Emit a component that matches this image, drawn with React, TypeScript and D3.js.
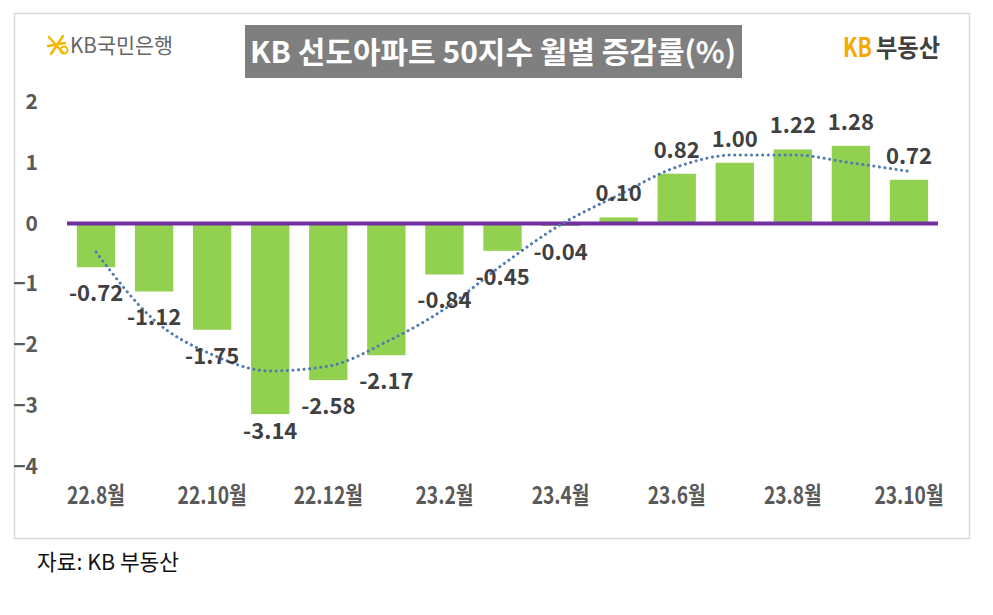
import React, { useRef, useEffect } from 'react';
import * as d3 from 'd3';

// months shown on the category axis
const months = [
  '22.8월', '22.9월', '22.10월', '22.11월', '22.12월', '23.1월', '23.2월', '23.3월',
  '23.4월', '23.5월', '23.6월', '23.7월', '23.8월', '23.9월', '23.10월',
];
// monthly change (%) of the KB 50 leading apartments index
const changes = [-0.72, -1.12, -1.75, -3.14, -2.58, -2.17, -0.84, -0.45, -0.04, 0.10, 0.82, 1.00, 1.22, 1.28, 0.72];
// dotted trend line
const trend = [-0.47, -1.59, -2.16, -2.43, -2.35, -1.95, -1.41, -0.68, -0.02, 0.47, 0.93, 1.13, 1.13, 1.0, 0.86];
const tickMonths = ['22.8월', '22.10월', '22.12월', '23.2월', '23.4월', '23.6월', '23.8월', '23.10월'];
const yTicks = [2, 1, 0, -1, -2, -3, -4];

const title = 'KB 선도아파트 50지수 월별 증감률(%)';
const source = '자료: KB 부동산';

const KFONT = "'Noto Sans CJK KR', 'Noto Sans', sans-serif";

const App = () => {
  const svgRef = useRef<SVGSVGElement | null>(null);

  useEffect(() => {
    const svg = d3.select(svgRef.current);
    svg.selectAll('*').remove();

    // outer frame
    svg.append('rect')
      .attr('x', 14.5).attr('y', 13.5)
      .attr('width', 955).attr('height', 525)
      .attr('fill', '#fff')
      .attr('stroke', '#d9d9d9')
      .attr('stroke-width', 1.5);

    // title box
    svg.append('rect')
      .attr('x', 245).attr('y', 25)
      .attr('width', 497).attr('height', 53)
      .attr('fill', '#7f7f7f');
    svg.append('text')
      .attr('x', 250).attr('y', 63)
      .attr('textLength', 486)
      .attr('lengthAdjust', 'spacingAndGlyphs')
      .attr('font-family', KFONT)
      .attr('font-weight', 700)
      .attr('font-size', 30)
      .attr('fill', '#fff')
      .text(title);

    // KB국민은행 logo (rough)
    const logo = svg.append('g').attr('transform', 'translate(57,45)');
    logo.append('path')
      .attr('d', 'M-8,-8 L6,8 M6,-9 L-6,9 M-9,1 L8,-2')
      .attr('stroke', '#f5b800').attr('stroke-width', 2.4)
      .attr('stroke-linecap', 'round').attr('fill', 'none');
    logo.append('circle')
      .attr('cx', 7).attr('cy', 5).attr('r', 3.5)
      .attr('stroke', '#f5b800').attr('stroke-width', 2).attr('fill', 'none');
    svg.append('text')
      .attr('x', 70).attr('y', 53)
      .attr('textLength', 103)
      .attr('lengthAdjust', 'spacingAndGlyphs')
      .attr('font-family', KFONT)
      .attr('font-size', 21)
      .attr('fill', '#666')
      .text('KB국민은행');

    // KB부동산 logo
    svg.append('text')
      .attr('x', 843).attr('y', 57)
      .attr('textLength', 29)
      .attr('lengthAdjust', 'spacingAndGlyphs')
      .attr('font-family', KFONT)
      .attr('font-weight', 700)
      .attr('font-size', 27)
      .attr('fill', '#f5a800')
      .text('KB');
    svg.append('text')
      .attr('x', 876).attr('y', 57)
      .attr('textLength', 64)
      .attr('lengthAdjust', 'spacingAndGlyphs')
      .attr('font-family', KFONT)
      .attr('font-weight', 700)
      .attr('font-size', 25)
      .attr('fill', '#404040')
      .text('부동산');

    // scales
    const x = d3.scaleBand<string>()
      .domain(months)
      .range([67, 938])
      .paddingInner(0.34)
      .paddingOuter(0.17);

    const y = d3.scaleLinear()
      .domain([-4, 2])
      .range([466.3, 102.1]);

    // y axis labels
    const yAxis = svg.append('g')
      .attr('transform', 'translate(38,0)')
      .call(d3.axisLeft(y).tickValues(yTicks).tickSize(0).tickPadding(0).tickFormat(d3.format('d')));
    yAxis.select('.domain').remove();
    yAxis.selectAll('text')
      .attr('font-family', KFONT)
      .attr('font-weight', 700)
      .attr('font-size', 21)
      .attr('fill', '#595959');

    // x axis labels, squeezed horizontally like the original condensed font
    const xAxis = svg.append('g')
      .attr('transform', 'translate(0,486)')
      .call(d3.axisBottom(x).tickValues(tickMonths).tickSize(0).tickPadding(0));
    xAxis.select('.domain').remove();
    xAxis.selectAll('text')
      .attr('font-family', KFONT)
      .attr('font-weight', 700)
      .attr('font-size', 24)
      .attr('fill', '#595959')
      .attr('dy', '0.75em')
      .attr('transform', 'scale(0.8,1)');

    // bars
    svg.append('g')
      .selectAll('rect')
      .data(changes)
      .join('rect')
      .attr('x', (d, i) => x(months[i])!)
      .attr('width', x.bandwidth())
      .attr('y', d => y(Math.max(0, d)))
      .attr('height', d => Math.abs(y(d) - y(0)))
      .attr('fill', '#92d050');

    // zero line
    svg.append('line')
      .attr('x1', 67).attr('x2', 938)
      .attr('y1', y(0)).attr('y2', y(0))
      .attr('stroke', '#7030a0')
      .attr('stroke-width', 4);

    // trend line
    const line = d3.line<number>()
      .x((d, i) => x(months[i])! + x.bandwidth() / 2)
      .y(d => y(d))
      .curve(d3.curveMonotoneX);
    svg.append('path')
      .datum(trend)
      .attr('d', line)
      .attr('fill', 'none')
      .attr('stroke', '#4f7bb0')
      .attr('stroke-width', 3)
      .attr('stroke-linecap', 'round')
      .attr('stroke-dasharray', '0.1 5.5');

    // value labels
    svg.append('g')
      .selectAll('text')
      .data(changes)
      .join('text')
      .attr('x', (d, i) => x(months[i])! + x.bandwidth() / 2)
      .attr('y', d => (d >= 0 ? y(d) - 16 : Math.min(y(d) + 34, 439)))
      .attr('text-anchor', 'middle')
      .attr('font-family', KFONT)
      .attr('font-weight', 700)
      .attr('font-size', 22)
      .attr('fill', '#404040')
      .text(d => d.toFixed(2));

    // source note
    svg.append('text')
      .attr('x', 37).attr('y', 570)
      .attr('textLength', 142)
      .attr('lengthAdjust', 'spacingAndGlyphs')
      .attr('font-family', KFONT)
      .attr('font-size', 22)
      .attr('fill', '#111')
      .text(source);
  }, []);

  return (
    <svg
      ref={svgRef}
      width="993"
      height="615"
      style={{ position: 'absolute', left: 0, top: 0, background: '#fff' }}
    ></svg>
  );
};

export default App;
